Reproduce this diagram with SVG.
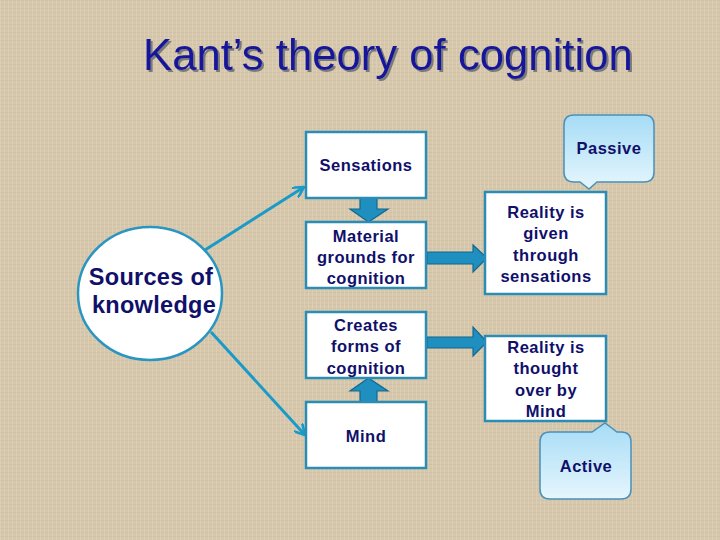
<svg xmlns="http://www.w3.org/2000/svg" width="720" height="540" viewBox="0 0 720 540">
<style>
.box{fill:#fff;stroke:#2b8db5;stroke-width:2.5}
.t{font-family:"Liberation Sans",Arial,sans-serif;font-weight:bold;font-size:16.5px;fill:#10106a;text-anchor:middle;letter-spacing:0.5px}
.big{font-size:23.5px;letter-spacing:0.3px}
.blk{fill:#1f8fbf;stroke:#13688f;stroke-width:1.2}
.con{stroke:#1a9ac9;stroke-width:3;fill:none}
.call{fill:url(#cg);stroke:#4a90b8;stroke-width:1.5}
.title{font-family:"Liberation Sans",Arial,sans-serif;font-size:43.7px;fill:#14149a;filter:url(#sh)}
</style>
<defs>
<pattern id="tex" width="4" height="4" patternUnits="userSpaceOnUse">
<rect width="4" height="4" fill="#d7c8ad"/>
<rect width="4" height="1" fill="#cbbb9e" opacity="0.6"/>
<rect width="1" height="4" fill="#e0d3ba" opacity="0.6"/>
</pattern>
<linearGradient id="cg" x1="0" y1="0" x2="0" y2="1">
<stop offset="0" stop-color="#a6dcf6"/>
<stop offset="1" stop-color="#e6f6fd"/>
</linearGradient>
<filter id="sh" x="-5%" y="-20%" width="110%" height="140%">
<feDropShadow dx="2" dy="2" stdDeviation="0" flood-color="#7a7a7a" flood-opacity="1"/>
</filter>
<marker id="ah" markerWidth="12" markerHeight="12" refX="9" refY="5" orient="auto" markerUnits="userSpaceOnUse" viewBox="0 0 10 10">
<path d="M0,0 L9,5 L0,10" fill="none" stroke="#1a9ac9" stroke-width="2.2"/>
</marker>
</defs>
<rect width="720" height="540" fill="url(#tex)"/>

<g id="title">
<text class="title" x="143" y="70">Kant’s theory of cognition</text>
</g>

<g id="connectors">
<line class="con" x1="205" y1="250" x2="304" y2="187" marker-end="url(#ah)"/>
<line class="con" x1="211" y1="332" x2="305" y2="435" marker-end="url(#ah)"/>
<polygon class="blk" points="360,198 377,198 377,209 388,209 368.5,222 350,209 360,209"/>
<polygon class="blk" points="360,402 377,402 377,391 388,391 368.5,378 350,391 360,391"/>
<polygon class="blk" points="427,252 473,252 473,245 487,258 473,272 473,264 427,264"/>
<polygon class="blk" points="427,337 473,337 473,327 487,342 473,356 473,348 427,348"/>
</g>

<g id="sources">
<ellipse cx="150" cy="293.5" rx="72" ry="66.5" fill="#fff" stroke="#2a95c0" stroke-width="2.5"/>
<text class="t big" x="151" y="285">Sources of</text>
<text class="t big" x="154" y="313">knowledge</text>
</g>

<g id="sensations">
<rect class="box" x="306" y="132" width="120" height="66"/>
<text class="t" x="366" y="171">Sensations</text>
</g>

<g id="material">
<rect class="box" x="306" y="222" width="120" height="66"/>
<text class="t" x="366" y="242">Material</text>
<text class="t" x="366" y="263">grounds for</text>
<text class="t" x="366" y="284">cognition</text>
</g>

<g id="creates">
<rect class="box" x="306" y="312" width="120" height="66"/>
<text class="t" x="366" y="331">Creates</text>
<text class="t" x="366" y="352">forms of</text>
<text class="t" x="366" y="374">cognition</text>
</g>

<g id="mind">
<rect class="box" x="306" y="402" width="120" height="66"/>
<text class="t" x="366" y="442">Mind</text>
</g>

<g id="given">
<rect class="box" x="485" y="192" width="121" height="102"/>
<text class="t" x="546" y="218">Reality is</text>
<text class="t" x="546" y="239">given</text>
<text class="t" x="546" y="261">through</text>
<text class="t" x="546" y="282">sensations</text>
</g>

<g id="thought">
<rect class="box" x="485" y="336" width="121" height="85"/>
<text class="t" x="546" y="353">Reality is</text>
<text class="t" x="546" y="374">thought</text>
<text class="t" x="546" y="396">over by</text>
<text class="t" x="546" y="417">Mind</text>
</g>

<g id="passive">
<path class="call" d="M574,115 H644 Q654,115 654,125 V172 Q654,182 644,182 H597 L589,189 L580,182 H574 Q564,182 564,172 V125 Q564,115 574,115 Z"/>
<text class="t" x="609" y="154">Passive</text>
</g>

<g id="active">
<path class="call" d="M550,432 H592 L605,423 L617,432 H621 Q631,432 631,442 V489 Q631,499 621,499 H550 Q540,499 540,489 V442 Q540,432 550,432 Z"/>
<text class="t" x="586" y="472">Active</text>
</g>
</svg>
